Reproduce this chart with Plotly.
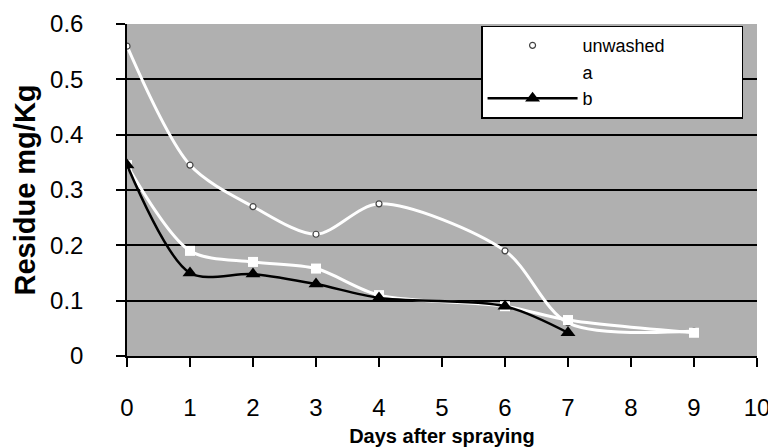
import plotly.graph_objects as go

# Data
days_unwashed = [0, 1, 2, 3, 4, 6, 7, 9]
res_unwashed = [0.56, 0.345, 0.27, 0.22, 0.275, 0.19, 0.06, 0.045]

days_a = [0, 1, 2, 3, 4, 6, 7, 9]
res_a = [0.345, 0.19, 0.17, 0.158, 0.11, 0.09, 0.065, 0.042]

days_b = [0, 1, 2, 3, 4, 6, 7]
res_b = [0.345, 0.15, 0.148, 0.13, 0.105, 0.09, 0.042]

x_ticks = [0, 1, 2, 3, 4, 5, 6, 7, 8, 9, 10]
y_ticks = [0, 0.1, 0.2, 0.3, 0.4, 0.5, 0.6]
y_ticktext = ["0", "0.1", "0.2", "0.3", "0.4", "0.5", "0.6"]

FONT = "Liberation Sans, Arial, sans-serif"
PAD = "<span style='color:white'>_______</span>"

fig = go.Figure()
fig.add_trace(go.Scatter(
    x=days_unwashed, y=res_unwashed, name="unwashed" + PAD, mode="lines+markers",
    line=dict(color="white", width=3, shape="spline", smoothing=0.85),
    marker=dict(symbol="circle", size=6, color="white", line=dict(color="#444", width=1.2)),
))
fig.add_trace(go.Scatter(
    x=days_a, y=res_a, name="a", mode="lines+markers",
    line=dict(color="white", width=3, shape="spline", smoothing=0.85),
    marker=dict(symbol="square", size=10, color="white"),
))
fig.add_trace(go.Scatter(
    x=days_b, y=res_b, name="b", mode="lines+markers",
    line=dict(color="black", width=2.5, shape="spline", smoothing=0.85),
    marker=dict(symbol="triangle-up", size=13, color="black"),
))

# page body has an 8px margin, so the figure is 768x440 and offset by 8px
fig.update_layout(
    width=768, height=440,
    margin=dict(l=119, r=19, t=16, b=92, autoexpand=False),
    paper_bgcolor="white",
    plot_bgcolor="#b0b0b0",
    font=dict(family=FONT, color="black"),
    showlegend=True,
    legend=dict(
        x=0.562, y=0.995, xanchor="left", yanchor="top",
        bgcolor="white", bordercolor="black", borderwidth=1.5,
        font=dict(family=FONT, size=18, color="black"),
        itemwidth=90, tracegroupgap=0,
    ),
)
fig.update_xaxes(
    range=[0, 10], tickvals=x_ticks, automargin=False,
    showgrid=False, zeroline=False,
    showline=True, linecolor="black", linewidth=1.5,
    ticks="outside", ticklen=9, tickcolor="black", tickwidth=1.5,
    ticklabelstandoff=20,
    tickfont=dict(family=FONT, size=24, color="black"),
    title=dict(text="<b>Days after spraying</b>", font=dict(family=FONT, size=20, color="black"), standoff=9),
)
fig.update_yaxes(
    range=[0, 0.6], tickvals=y_ticks, ticktext=y_ticktext, automargin=False,
    showgrid=True, gridcolor="black", gridwidth=1.5,
    zeroline=False,
    showline=True, linecolor="black", linewidth=1.5,
    ticks="outside", ticklen=9, tickcolor="black", tickwidth=1.5,
    ticklabelstandoff=28,
    tickfont=dict(family=FONT, size=24, color="black"),
    title=dict(text="<b>Residue mg/Kg</b>", font=dict(family=FONT, size=29, color="black"), standoff=6),
)

fig.write_html("out.html")
